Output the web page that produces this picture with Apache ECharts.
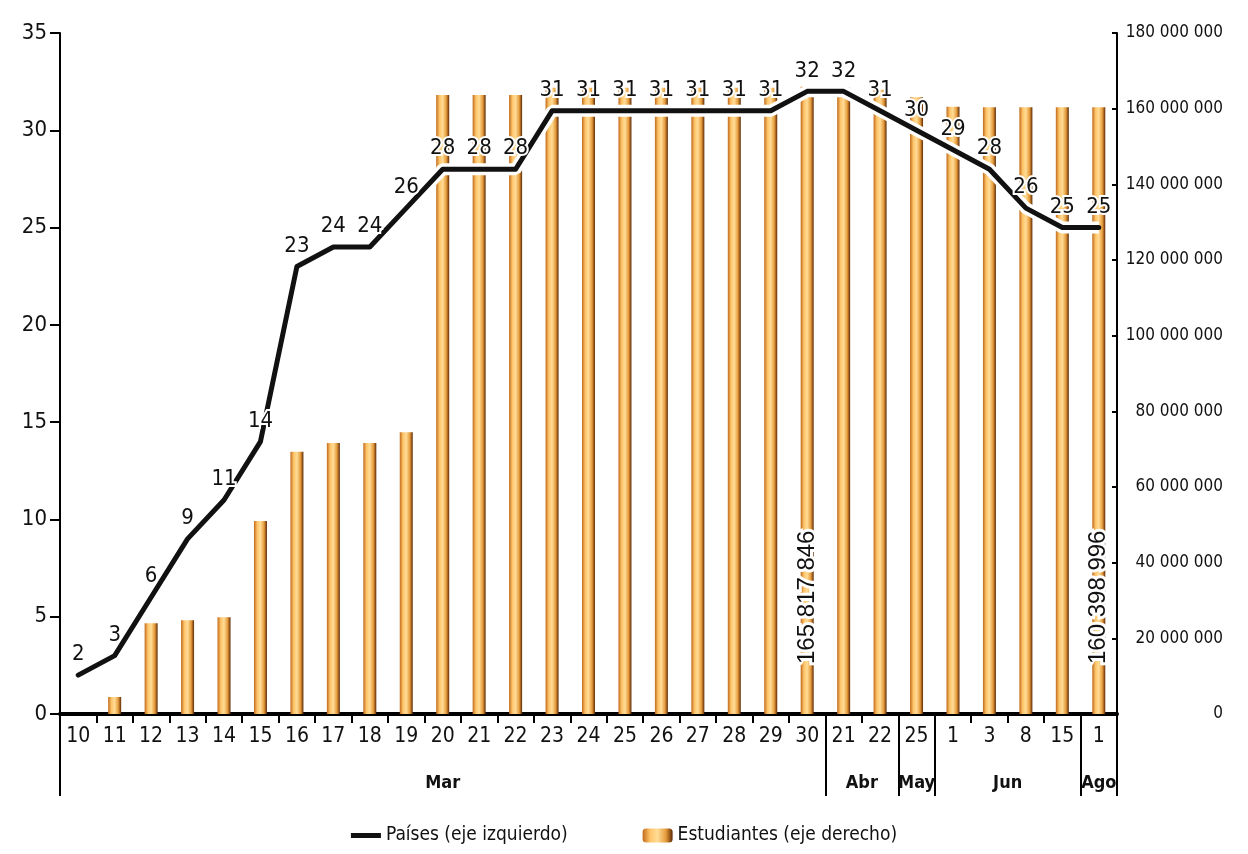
<!DOCTYPE html>
<html>
<head>
<meta charset="utf-8">
<script src="https://cdn.jsdelivr.net/npm/echarts@6/dist/echarts.min.js"></script>
<style>
html,body{margin:0;padding:0;background:#fff;}
#c{width:1248px;height:854px;}
</style>
</head>
<body>
<div id="c"></div>
<script>
// ---- data ----
var categories = ['10','11','12','13','14','15','16','17','18','19','20','21','22','23','24','25','26','27','28','29','30',
                  '21','22','25','1','3','8','15','1'];
var monthNames = ['Mar','Abr','May','Jun','Ago'];
var monthCounts = [21, 2, 1, 4, 1];
var paises = [2,3,6,9,11,14,23,24,24,26,28,28,28,31,31,31,31,31,31,31,32,32,31,30,29,28,26,25,25];
var estudiantes = [0, 4500000, 24000000, 24800000, 25600000, 51000000, 69300000, 71600000, 71600000, 74500000,
                   163600000, 163600000, 163600000, 165500000, 165500000, 165500000, 165500000, 165500000, 165500000, 165500000,
                   165817846, 165500000, 165000000, 163000000, 160500000, 160398996, 160398996, 160398996, 160398996];
var labeledBars = [20, 28];
var leftTicks = {min: 0, max: 35, interval: 5};
var rightTicks = {min: 0, max: 180000000, interval: 20000000};

// ---- derived ----
var boundaries = [0], centers = [], acc = 0;
monthCounts.forEach(function (n) { centers.push(acc + n / 2); acc += n; boundaries.push(acc); });
function fmt(v) { return String(v).replace(/\B(?=(\d{3})+(?!\d))/g, ' '); }

var FONT = "'DejaVu Sans Condensed', 'Liberation Sans Narrow', 'Liberation Sans', sans-serif";

var barGradient = new echarts.graphic.LinearGradient(0, 0, 1, 0, [
  {offset: 0, color: '#c06a1a'},
  {offset: 0.25, color: '#ffc46a'},
  {offset: 0.5, color: '#ffdc96'},
  {offset: 0.78, color: '#e59a3a'},
  {offset: 1, color: '#5e2a05'}
]);

var barData = estudiantes.map(function (v, i) {
  if (labeledBars.indexOf(i) >= 0) {
    return {value: v, label: {show: true}};
  }
  return v;
});

var chart = echarts.init(document.getElementById('c'));
chart.setOption({
  backgroundColor: '#fff',
  animation: false,
  textStyle: {fontFamily: FONT, color: '#111'},
  grid: {left: 60, right: 131, top: 33, bottom: 140},
  legend: {
    data: [
      {name: 'Países (eje izquierdo)', icon: 'path://M0,0L30,0L30,5L0,5Z', itemStyle: {color: '#111'}},
      {name: 'Estudiantes (eje derecho)', icon: 'roundRect'}
    ],
    top: 821, left: 'center',
    itemWidth: 30, itemHeight: 14, itemGap: 75,
    textStyle: {fontFamily: FONT, fontSize: 19, color: '#111'}
  },
  xAxis: [{
    type: 'category',
    data: categories,
    boundaryGap: true,
    axisLine: {lineStyle: {color: '#000', width: 4}},
    axisTick: {show: true, interval: 0, length: 9, lineStyle: {color: '#000', width: 2}},
    axisLabel: {interval: 0, margin: 12, fontSize: 21, color: '#111', fontFamily: FONT}
  }, {
    type: 'value',
    min: 0, max: categories.length,
    position: 'bottom',
    axisLine: {show: false},
    splitLine: {show: false},
    axisTick: {show: true, customValues: boundaries, length: 82, lineStyle: {color: '#000', width: 2}},
    axisLabel: {
      customValues: centers, margin: 60, fontSize: 18, fontWeight: 'bold', color: '#111', fontFamily: FONT,
      formatter: function (v) {
        var k = centers.indexOf(v);
        return k >= 0 ? monthNames[k] : '';
      }
    }
  }],
  yAxis: [{
    type: 'value',
    min: leftTicks.min, max: leftTicks.max, interval: leftTicks.interval,
    axisLine: {show: true, lineStyle: {color: '#000', width: 2}},
    axisTick: {show: true, length: 10, lineStyle: {color: '#000', width: 2}},
    splitLine: {show: false},
    axisLabel: {margin: 13, fontSize: 22, color: '#111', fontFamily: FONT}
  }, {
    type: 'value',
    position: 'right',
    min: rightTicks.min, max: rightTicks.max, interval: rightTicks.interval,
    axisLine: {show: true, lineStyle: {color: '#000', width: 2}},
    axisTick: {show: true, inside: true, length: 5, lineStyle: {color: '#000', width: 2}},
    splitLine: {show: false},
    axisLabel: {margin: 106, align: 'right', fontSize: 17, color: '#111', fontFamily: FONT, formatter: fmt}
  }],
  series: [{
    name: 'Estudiantes (eje derecho)',
    type: 'bar',
    yAxisIndex: 1,
    data: barData,
    barWidth: 13,
    itemStyle: {color: barGradient},
    label: {
      show: false,
      position: 'insideBottom',
      distance: 50,
      rotate: 90,
      align: 'left',
      verticalAlign: 'middle',
      fontFamily: "'Liberation Sans', Arial, sans-serif",
      fontSize: 24,
      color: '#111',
      textBorderColor: '#fff',
      textBorderWidth: 6,
      formatter: function (p) { return fmt(p.value); }
    }
  }, {
    name: 'halo',
    type: 'line',
    yAxisIndex: 0,
    data: paises,
    symbol: 'none',
    silent: true,
    lineStyle: {color: '#fff', width: 12},
    z: 3
  }, {
    name: 'Países (eje izquierdo)',
    type: 'line',
    yAxisIndex: 0,
    data: paises,
    symbol: 'circle',
    symbolSize: 1,
    showSymbol: true,
    color: '#111',
    itemStyle: {color: '#111'},
    lineStyle: {color: '#111', width: 5, join: 'round', cap: 'round'},
    label: {
      show: true,
      position: 'top',
      distance: 9,
      fontSize: 22,
      color: '#111',
      fontFamily: FONT,
      textBorderColor: '#fff',
      textBorderWidth: 4
    },
    labelLayout: {hideOverlap: false},
    z: 4
  }]
});
</script>
</body>
</html>
